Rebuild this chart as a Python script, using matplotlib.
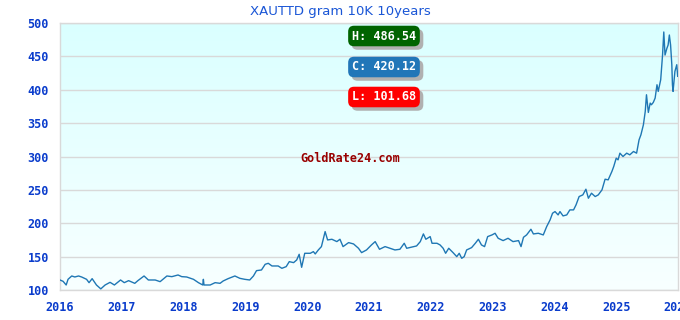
import matplotlib
matplotlib.use("Agg")
import matplotlib.pyplot as plt
import matplotlib.patheffects as pe
from matplotlib.colors import LinearSegmentedColormap
import numpy as np

# ---- data (fractional year, value per gram) ----
years = [
    2016.00, 2016.05, 2016.10, 2016.13, 2016.19, 2016.24, 2016.30, 2016.35, 2016.43, 2016.47,
    2016.52, 2016.59, 2016.66, 2016.73, 2016.81, 2016.88, 2016.98, 2017.04, 2017.11, 2017.21,
    2017.26, 2017.36, 2017.43, 2017.54, 2017.62, 2017.73, 2017.81, 2017.91, 2017.97, 2018.05,
    2018.16, 2018.24, 2018.31, 2018.32, 2018.33, 2018.43, 2018.51, 2018.59, 2018.64, 2018.72,
    2018.83, 2018.91, 2018.99, 2019.07, 2019.13, 2019.18, 2019.26, 2019.32, 2019.37, 2019.43,
    2019.53, 2019.59, 2019.66, 2019.71, 2019.78, 2019.83, 2019.87, 2019.91, 2019.96, 2020.05,
    2020.10, 2020.13, 2020.18, 2020.23, 2020.27, 2020.29, 2020.33, 2020.40, 2020.48, 2020.53,
    2020.58, 2020.67, 2020.75, 2020.83, 2020.88, 2020.96, 2021.04, 2021.10, 2021.17, 2021.26,
    2021.34, 2021.42, 2021.50, 2021.57, 2021.61, 2021.72, 2021.77, 2021.83, 2021.88, 2021.92,
    2021.99, 2022.02, 2022.10, 2022.15, 2022.20, 2022.24, 2022.29, 2022.36, 2022.42, 2022.46,
    2022.50, 2022.54, 2022.58, 2022.66, 2022.72, 2022.77, 2022.82, 2022.87, 2022.92, 2022.99,
    2023.04, 2023.09, 2023.17, 2023.25, 2023.33, 2023.42, 2023.46, 2023.50, 2023.55, 2023.62,
    2023.66, 2023.74, 2023.82, 2023.875, 2023.93, 2023.97, 2024.01, 2024.06, 2024.09, 2024.14,
    2024.20, 2024.25, 2024.31, 2024.35, 2024.40, 2024.46, 2024.51, 2024.55, 2024.60, 2024.66,
    2024.71, 2024.77, 2024.82, 2024.87, 2024.93, 2024.96, 2025.00, 2025.03, 2025.06, 2025.11,
    2025.17, 2025.22, 2025.28, 2025.33, 2025.36, 2025.37, 2025.40, 2025.44, 2025.47, 2025.49,
    2025.52, 2025.55, 2025.57, 2025.60, 2025.63, 2025.66, 2025.68, 2025.72, 2025.75, 2025.77,
    2025.79, 2025.82, 2025.84, 2025.86, 2025.88, 2025.90, 2025.91, 2025.92, 2025.95, 2025.98,
    2025.995,
]
values = [
    115, 113, 107.5, 116, 121, 119.5, 121, 119.5, 116, 111,
    117, 107.5, 101.68, 107.5, 111.5, 107.5, 115, 111, 114, 110,
    114, 121, 115, 115, 112.5, 121, 120, 122.5, 120, 119.5,
    116, 111, 107.5, 116, 107.5, 107.5, 111, 110, 113.5, 117,
    121, 117.5, 116, 115, 121, 129, 130, 138.5, 140, 136,
    136, 132.5, 135, 142.5, 141, 145, 153.5, 134, 155, 155,
    157.5, 154, 160, 165, 180, 187.5, 175, 176, 172.5, 176,
    165, 171, 169, 162.5, 156, 160, 167.5, 172.5, 161, 165,
    162.5, 160, 161, 170, 162.5, 165, 166, 172.5, 184, 176,
    180, 170, 170, 167.5, 162.5, 155, 162.5, 156, 150, 155,
    147.5, 150, 160, 163.5, 170, 176, 167.5, 165, 180, 182.5,
    185, 177.5, 174, 177.5, 172.5, 174, 165, 179, 182.5, 191,
    184, 185, 182.5, 195, 205, 215, 217.5, 212.5, 217.5, 211,
    212.5, 220, 220, 227.5, 240, 242.5, 251, 237.5, 245, 240,
    242.5, 250, 266, 265, 277.5, 285, 297.5, 295, 305, 300,
    305, 302.5, 307.5, 305, 320, 325, 332.5, 347.5, 367.5, 392.5,
    366, 380, 377.5, 381, 387.5, 407.5, 397.5, 415, 452, 486.54,
    452, 462, 467, 482, 467, 437.5, 407.5, 397.5, 427.5, 437.5,
    420.12,
]
year_ticks = [2016, 2017, 2018, 2019, 2020, 2021, 2022, 2023, 2024, 2025, 2026]
value_ticks = [100, 150, 200, 250, 300, 350, 400, 450, 500]
title = "XAUTTD gram 10K 10years"
watermark = "GoldRate24.com"

# ---- figure ----
fig = plt.figure(figsize=(6.8, 3.2), dpi=100)
ax = fig.add_axes([60 / 680, 1 - 290 / 320, 618 / 680, 267 / 320])

x0, x1 = 2016, 2026
y0, y1 = 100, 500
ax.set_xlim(x0, x1)
ax.set_ylim(y0, y1)

# background gradient
cmap = LinearSegmentedColormap.from_list("bg", ["#f8ffff", "#daffff"])
grad = np.linspace(0, 1, 256).reshape(-1, 1)
ax.imshow(grad, extent=[x0, x1, y0, y1], origin="lower", aspect="auto",
          cmap=cmap, zorder=0, interpolation="bilinear")

ax.set_yticks(value_ticks)
ax.set_xticks(year_ticks)
ax.yaxis.grid(True, color="#d9d9d9", lw=1, zorder=1)
ax.xaxis.grid(False)
for s in ax.spines.values():
    s.set_color("#d9d9d9")
    s.set_linewidth(1)

ax.plot(years, values, color="#1f77b4", lw=1.0, zorder=3)

tick_font = dict(family="DejaVu Sans Mono", weight="bold", size=8.5)
ax.set_yticklabels([str(v) for v in value_ticks], color="#0a3ccc", **tick_font)
ax.set_xticklabels([str(v) for v in year_ticks], color="#0a3ccc", **tick_font)
ax.tick_params(axis="both", length=0)
ax.tick_params(axis="y", pad=8)
ax.tick_params(axis="x", pad=8)

fig.text(340 / 680, 1 - 12 / 320, title, ha="center", va="center",
         color="#1a56d6", fontsize=9.5, family="DejaVu Sans")

# watermark
fig.text(300 / 680, 1 - 158 / 320, watermark, ha="left", va="center",
         color="#990000", family="DejaVu Sans Mono", weight="bold", fontsize=8.5)

# badges
hi = max(values)
lo = min(values)
cur = values[-1]
badges = [("H: %.2f" % hi, "#006400", 36), ("C: %.2f" % cur, "#2176b8", 67),
          ("L: %.2f" % lo, "#ff0000", 97)]
for txt, col, yc in badges:
    fx, fy = 384 / 680, 1 - yc / 320
    t = fig.text(fx, fy, txt, ha="center", va="center", color="white",
                 family="DejaVu Sans Mono", weight="bold", fontsize=8.5,
                 bbox=dict(boxstyle="round,pad=0.32,rounding_size=0.5", fc=col, ec="none"))
    t.get_bbox_patch().set_path_effects([
        pe.SimplePatchShadow(offset=(2.5, -2.5), shadow_rgbFace="#b0b0b0", alpha=1.0),
        pe.Normal(),
    ])

fig.savefig("out.png", dpi=100, facecolor="white")
